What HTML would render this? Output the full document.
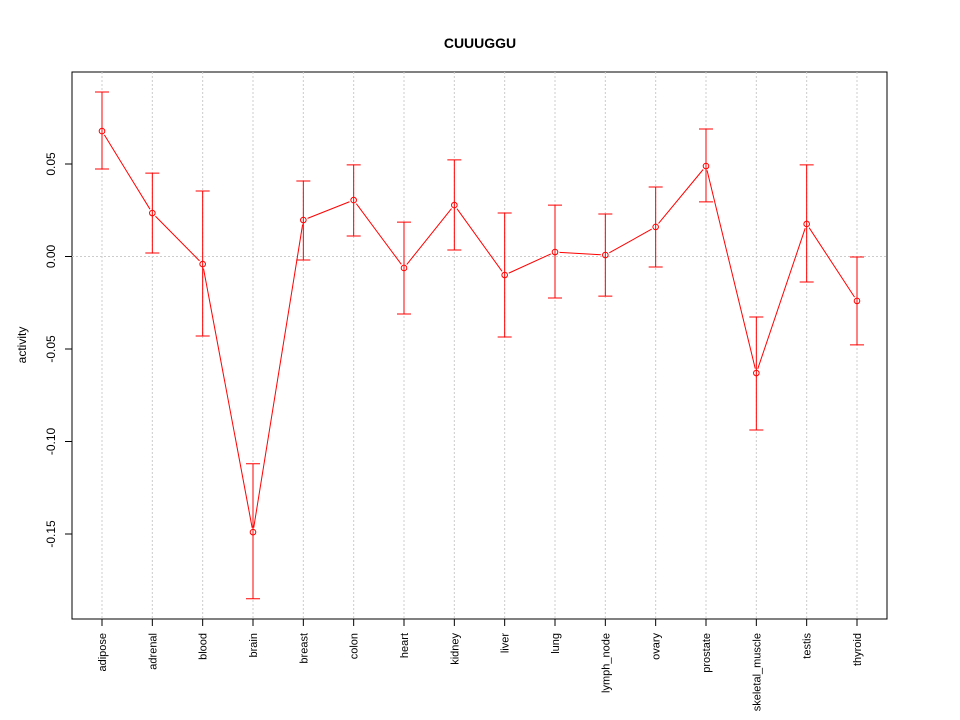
<!DOCTYPE html>
<html><head><meta charset="utf-8"><style>
body{margin:0;background:#fff;}
svg{display:block;font-family:"Liberation Sans",Arial,sans-serif;}
</style></head><body>
<svg id="chart" width="960" height="720">
<text x="480" y="48" text-anchor="middle" font-size="14" font-weight="bold">CUUUGGU</text>
<text transform="translate(26,345) rotate(-90)" text-anchor="middle" font-size="12">activity</text>
<rect x="72" y="72" width="815" height="547" fill="none" stroke="#000"/>
<g id="grid"></g><g id="axes"></g><g id="marks"></g>
</svg>
<script>
const categories=["adipose","adrenal","blood","brain","breast","colon","heart","kidney","liver","lung","lymph_node","ovary","prostate","skeletal_muscle","testis","thyroid"];
const values=[0.0678,0.0235,-0.0041,-0.149,0.0197,0.0305,-0.0062,0.0278,-0.010,0.0024,0.0008,0.016,0.0489,-0.063,0.0176,-0.024];
const upper=[0.0889,0.0451,0.0354,-0.112,0.0408,0.0495,0.0186,0.0522,0.0235,0.0278,0.023,0.0376,0.0689,-0.0327,0.0495,-0.0003];
const lower=[0.0473,0.0019,-0.043,-0.185,-0.0019,0.0111,-0.0311,0.0035,-0.0435,-0.0224,-0.0214,-0.0057,0.0295,-0.0938,-0.0138,-0.0478];
const yTicks=[0.05,0.00,-0.05,-0.10,-0.15];
const yTickLabels=["0.05","0.00","-0.05","-0.10","-0.15"];
const NS="http://www.w3.org/2000/svg";
const X=i=>102+i*(857-102)/(categories.length-1);
const Y=v=>256.5-v*1850;
function mk(t,a,p){const e=document.createElementNS(NS,t);for(const k in a)e.setAttribute(k,a[k]);p.appendChild(e);return e;}
const grid=document.getElementById('grid'),axes=document.getElementById('axes'),marks=document.getElementById('marks');
categories.forEach((c,i)=>{
 const g=mk('line',{x1:X(i),x2:X(i),y1:72,y2:619,stroke:'#ccc','stroke-dasharray':'2,2'},grid);
 
 
 const t=mk('line',{x1:X(i),x2:X(i),y1:619,y2:626,stroke:'#000'},axes);
 
 
 const l=mk('text',{transform:`translate(${X(i)+4},633) rotate(-90)`,'text-anchor':'end','font-size':'11'},axes);
 l.textContent=c;
 
 
});
const g0=mk('line',{x1:72,x2:887,y1:Y(0),y2:Y(0),stroke:'#ccc','stroke-dasharray':'2,2'},grid);


yTicks.forEach((v,i)=>{
 const t=mk('line',{x1:65,x2:72,y1:Y(v),y2:Y(v),stroke:'#000'},axes);
 
 
 const l=mk('text',{transform:`translate(55,${Y(v)}) rotate(-90)`,'text-anchor':'middle','font-size':'12'},axes);
 l.textContent=yTickLabels[i];
 
 
});
for(let i=0;i<values.length-1;i++){
 const x1=X(i),y1=Y(values[i]),x2=X(i+1),y2=Y(values[i+1]);
 const dx=x2-x1,dy=y2-y1,d=Math.hypot(dx,dy),g=4.5;
 const s=mk('line',{x1:x1+dx*g/d,y1:y1+dy*g/d,x2:x2-dx*g/d,y2:y2-dy*g/d,stroke:'#f00'},marks);
 
 
}
values.forEach((v,i)=>{
 const e=mk('path',{d:`M${X(i)},${Y(upper[i])}V${Y(lower[i])}M${X(i)-7},${Y(upper[i])}H${X(i)+7}M${X(i)-7},${Y(lower[i])}H${X(i)+7}`,stroke:'#f00',fill:'none'},marks);
 
 
 const p=mk('circle',{cx:X(i),cy:Y(v),r:2.8,fill:'none',stroke:'#f00'},marks);
 
 
});
</script>
</body></html>
